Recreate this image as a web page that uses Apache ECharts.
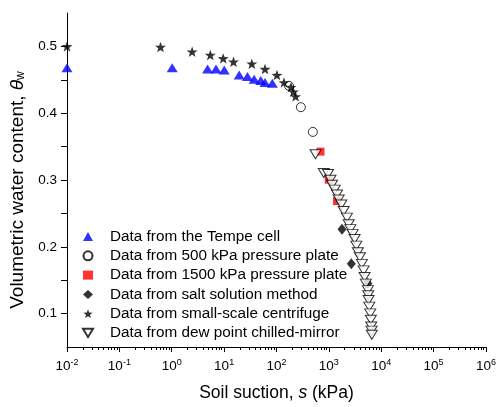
<!DOCTYPE html>
<html><head><meta charset="utf-8">
<script src="https://cdn.jsdelivr.net/npm/echarts@6/dist/echarts.min.js"></script>
<style>html,body{margin:0;padding:0;background:#fff}#c{width:499px;height:407px}</style>
</head><body><div id="c"></div>
<script>
// Data (suction in kPa, volumetric water content)
const tempeCell = [[0.01,0.468],[1.02,0.468],[4.84,0.466],[7.0,0.466],[10.05,0.4645],[19.4,0.457],[27.9,0.455],[37.4,0.451],[50.1,0.449],[60.4,0.446],[83.2,0.445]];
const plate500 = [[173,0.441],[292,0.409],[494,0.372]];
const plate1500 = [[692,0.3425],[995,0.3004],[1430,0.2684]];
const saltSolution = [[1780,0.2264],[2685,0.1745],[5550,0.1449]];
const centrifuge = [[0.01,0.5],[0.61,0.499],[2.45,0.492],[5.45,0.487],[9.6,0.482],[15.1,0.477],[33.8,0.474],[60.4,0.466],[102,0.457],[139,0.446],[189,0.439],[210,0.432],[232,0.425]];
const dewPoint = [[556,0.3385],[799,0.3104],[964,0.3089],[1072,0.3004],[1149,0.2930],[1294,0.2856],[1430,0.2782],[1541,0.2708],[1734,0.2634],[1918,0.2536],[2214,0.2437],[2388,0.2338],[2572,0.2264],[2843,0.2190],[3104,0.2116],[3342,0.2018],[3581,0.1919],[3911,0.1844],[4266,0.1745],[4603,0.1647],[4809,0.1548],[5084,0.1449],[5550,0.1351],[5650,0.1275],[5730,0.1203],[5905,0.1104],[6170,0.1004],[6330,0.0907],[6440,0.0807],[6530,0.0745],[6610,0.0684]];
const seriesNames = ['Data from the Tempe cell','Data from 500 kPa pressure plate','Data from 1500 kPa pressure plate','Data from salt solution method','Data from small-scale centrifuge','Data from dew point chilled-mirror'];
const xMajorTicks = [1e-2,1e-1,1,1e1,1e2,1e3,1e4,1e5,1e6];
const yTickValues = [0.1,0.15,0.2,0.25,0.3,0.35,0.4,0.45,0.5];
const yLabelValues = [0.1,0.2,0.3,0.4,0.5];

const xMinorTicks = [];
for (let e = -2; e < 6; e++) for (let m = 2; m <= 9; m++) xMinorTicks.push(m * Math.pow(10, e));

const FONT = 'Liberation Sans, Arial, sans-serif';
const STAR = 'path://M50,0 L61.8,33.8 L97.6,34.5 L69,56.2 L79.4,90.5 L50,70 L20.6,90.5 L31,56.2 L2.4,34.5 L38.2,33.8 Z';
const DOWN_TRI = 'path://M0,0 L12,0 L6,10 Z';

const chart = echarts.init(document.getElementById('c'), null, {renderer: 'canvas'});
const baseScatter = {type: 'scatter', xAxisIndex: 0, yAxisIndex: 0, clip: false};
chart.setOption({
  animation: false,
  backgroundColor: '#fff',
  textStyle: {fontFamily: FONT, color: '#000'},
  grid: {left: 67, right: 11, top: 13, bottom: 54},
  legend: {
    orient: 'vertical', left: 77, top: 224, itemWidth: 10, itemHeight: 9, itemGap: 4.3,
    textStyle: {fontFamily: FONT, fontSize: 15.3, color: '#000', padding: [0, 0, 0, 12]},
    data: seriesNames.map((n, i) => i === 5 ? {name: n, icon: DOWN_TRI} : {name: n})
  },
  xAxis: [{
    type: 'log', logBase: 10, min: 1e-2, max: 1e6,
    name: '{n|Soil suction, }{i|s}{n| (kPa)}', nameLocation: 'middle', nameGap: 37,
    nameTextStyle: {rich: {n: {fontSize: 17.5, fontFamily: FONT, color: '#000'}, i: {fontSize: 17.5, fontStyle: 'italic', fontFamily: FONT, color: '#000'}}},
    axisLine: {show: true, lineStyle: {color: '#000', width: 1}},
    axisTick: {show: true, inside: false, length: 5, customValues: xMajorTicks, lineStyle: {color: '#000'}},
    axisLabel: {
      customValues: xMajorTicks, margin: 11,
      formatter: v => '{b|10}{s|' + Math.round(Math.log10(v)) + '}',
      rich: {b: {fontSize: 13.5, fontFamily: FONT, color: '#000', lineHeight: 16}, s: {fontSize: 9, fontFamily: FONT, color: '#000', verticalAlign: 'top', lineHeight: 16, padding: [0,0,6,0]}}
    },
    splitLine: {show: false}
  }, {
    type: 'log', logBase: 10, min: 1e-2, max: 1e6, position: 'bottom', gridIndex: 0,
    axisLine: {show: false},
    axisTick: {show: true, inside: false, length: 3, customValues: xMinorTicks, lineStyle: {color: '#000'}},
    axisLabel: {show: false}, splitLine: {show: false}
  }],
  yAxis: {
    type: 'value', min: 0.05, max: 0.55,
    name: '{n|Volumetric water content, }{i|θ}{w|w}', nameLocation: 'middle', nameGap: 40,
    nameTextStyle: {padding: [0, 20, 0, 0], rich: {n: {fontSize: 19, fontFamily: FONT, color: '#000'}, i: {fontSize: 19, fontStyle: 'italic', fontFamily: FONT, color: '#000'}, w: {fontSize: 12, fontFamily: FONT, color: '#000', verticalAlign: 'bottom', padding: [7,0,0,0]}}},
    axisLine: {show: true, lineStyle: {color: '#000', width: 1}},
    axisTick: {show: true, inside: false, length: 6, customValues: yTickValues, lineStyle: {color: '#000'}},
    axisLabel: {customValues: yLabelValues, fontSize: 13.5, color: '#000', fontFamily: FONT, margin: 10, formatter: v => v.toFixed(1)},
    splitLine: {show: false}
  },
  series: [
    Object.assign({}, baseScatter, {name: seriesNames[0], data: tempeCell, symbol: 'triangle', symbolSize: [11, 9], itemStyle: {color: '#0000ff'}}),
    Object.assign({}, baseScatter, {name: seriesNames[1], data: plate500, symbol: 'circle', symbolSize: 9, itemStyle: {color: '#fff', borderColor: '#000', borderWidth: 1}}),
    Object.assign({}, baseScatter, {name: seriesNames[2], data: plate1500, symbol: 'rect', symbolSize: 8, itemStyle: {color: '#ff0000'}}),
    Object.assign({}, baseScatter, {name: seriesNames[3], data: saltSolution, symbol: 'diamond', symbolSize: [9, 11], itemStyle: {color: '#000'}}),
    Object.assign({}, baseScatter, {name: seriesNames[4], data: centrifuge, symbol: STAR, symbolSize: [11, 10.5], itemStyle: {color: '#000'}}),
    Object.assign({}, baseScatter, {name: seriesNames[5], data: dewPoint, symbol: 'triangle', symbolRotate: 180, symbolSize: [11, 9], itemStyle: {color: '#fff', borderColor: '#000', borderWidth: 1}})
  ]
});
</script>
</body></html>
